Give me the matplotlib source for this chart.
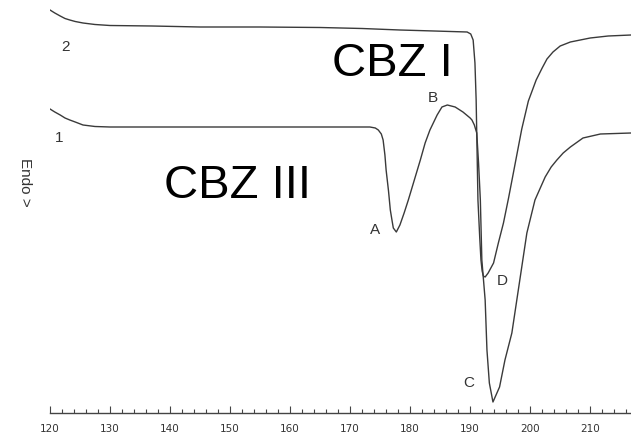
import matplotlib.pyplot as plt
from matplotlib.ticker import MultipleLocator

# DSC traces, temperature in deg C, signal in arbitrary units (endo down)
temp_2 = [120.0, 120.8, 121.7, 122.5, 123.3, 124.2, 125.5, 127.5, 130.0, 137.0, 145.0,
          155.0, 165.0, 172.0, 178.3, 184.0, 189.5, 190.1, 190.5, 190.8, 191.0, 191.3,
          191.6, 191.8, 192.0, 192.2, 192.5, 193.0, 193.9, 194.7, 195.55, 196.4, 197.2,
          198.6, 199.7, 201.0, 202.0, 202.8, 203.8, 205.0, 206.7, 210.0, 213.0, 216.8]
signal_2 = [403, 400, 397, 394.5, 393, 391.5, 390, 388.5, 387.5, 387, 386,
            386, 385.5, 384.5, 383, 382, 381, 379, 373, 350, 313, 213,
            175, 153, 142, 137, 136, 140, 150, 170, 190, 215, 240,
            284, 312, 333, 345, 354, 361, 367, 371, 375, 377, 378]

temp_1 = [120.0, 120.8, 121.7, 122.5, 123.3, 124.2, 125.5, 127.5, 130.0, 140.0, 150.0,
          160.0, 168.0, 173.3, 174.2, 174.7, 175.2, 175.5, 175.8, 176.0, 176.4, 176.7,
          177.0, 177.2, 177.7, 178.3, 179.0, 179.7, 180.7, 181.7, 182.5, 183.3, 184.5,
          185.3, 186.2, 187.5, 188.8, 190.0, 190.3, 190.7, 191.1, 191.4, 191.7, 191.95,
          192.5, 192.8, 193.2, 193.8, 194.9, 195.8, 196.95, 198.6, 199.45, 200.8, 202.5,
          203.5, 204.45, 205.5, 206.7, 208.8, 211.7, 216.8]
signal_1 = [304, 301, 298, 295, 293, 291, 288, 286.5, 286, 286, 286,
            286, 286, 286, 285, 283, 279, 273, 258, 243, 222, 203,
            192, 185, 181, 188, 200, 213, 233, 253, 270, 283, 298,
            306, 308, 306, 301, 295, 293, 288, 280, 250, 213, 153,
            113, 63, 30, 11, 26, 53, 80, 146, 180, 213, 236,
            246, 253, 260, 266, 275, 279, 280]

peak_labels = ["A", "B", "C", "D"]
peak_temp = [174.2, 183.7, 189.7, 195.3]
peak_signal = [183, 315, 30, 132]

fig = plt.figure(figsize=(6.31, 4.38), dpi=100)
ax = fig.add_axes([50 / 631, 25 / 438, 581 / 631, 413 / 438])

line_color = "#3a3a3a"
ax.plot(temp_2, signal_2, color=line_color, lw=1.0)
ax.plot(temp_1, signal_1, color=line_color, lw=1.0)

ax.set_xlim(120, 216.8)
ax.set_ylim(0, 413)

# only the bottom axis with inward ticks
for side in ["top", "right", "left"]:
    ax.spines[side].set_visible(False)
ax.spines["bottom"].set_color("#444444")
ax.spines["bottom"].set_linewidth(1.0)
ax.set_yticks([])
ax.xaxis.set_major_locator(MultipleLocator(10))
ax.xaxis.set_minor_locator(MultipleLocator(2))
ax.tick_params(axis="x", which="major", direction="in", length=5, width=0.8,
               color="#444444", labelsize=7.5, labelcolor="#333333", pad=8)
ax.tick_params(axis="x", which="minor", direction="in", length=3, width=0.8,
               color="#444444")

# curve numbers and peak letters
ax.text(122.5, 366, "2", fontsize=11, color="#333333", ha="center", va="center",
        family="Liberation Sans")
ax.text(121.5, 275, "1", fontsize=11, color="#333333", ha="center", va="center",
        family="Liberation Sans")
for lab, t, s in zip(peak_labels, peak_temp, peak_signal):
    ax.text(t, s, lab, fontsize=11, color="#333333", ha="center", va="center",
            family="Liberation Sans")

ax.text(151.2, 227, "CBZ III", fontsize=34, color="black", ha="center", va="center",
        family="Liberation Sans")
ax.text(177.0, 349, "CBZ I", fontsize=34, color="black", ha="center", va="center",
        family="Liberation Sans")

fig.text(25 / 631, 1 - 182 / 438, "Endo >", rotation=270, fontsize=11,
         color="#333333", ha="center", va="center", family="Liberation Sans")

fig.savefig("out.png", dpi=100)
